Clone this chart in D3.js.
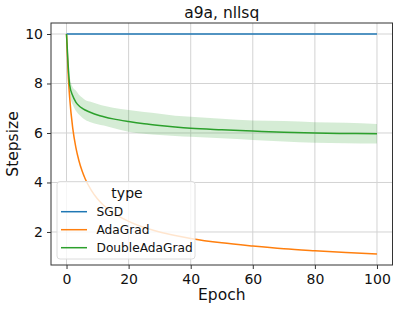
<!DOCTYPE html>
<html><head><meta charset="utf-8">
<script src="https://cdn.jsdelivr.net/npm/d3@7"></script>
<style>body{margin:0;background:#fff;} svg{display:block;font-family:"DejaVu Sans",sans-serif;}</style>
</head><body>
<script>
const title = "a9a, nllsq";
const xLabel = "Epoch";
const yLabel = "Stepsize";
const seriesNames = ["SGD", "AdaGrad", "DoubleAdaGrad"];
const seriesColors = ["#1f77b4", "#ff7f0e", "#2ca02c"];
const xTicks = [0, 20, 40, 60, 80, 100];
const yTicks = [2, 4, 6, 8, 10];
const epochs = [0,0.5,1,2,3,4,5,6,8,10,12,15,20,25,30,35,40,50,60,70,80,90,100];
const sgd = [10,10,10,10,10,10,10,10,10,10,10,10,10,10,10,10,10,10,10,10,10,10,10];
const adagrad = [10,8.45,7.45,6.20,5.42,4.88,4.47,4.15,3.68,3.33,3.07,2.77,2.43,2.18,2.00,1.86,1.74,1.56,1.43,1.32,1.24,1.17,1.11];
const dbl = [10,8.8,7.95,7.5,7.25,7.1,7.0,6.93,6.82,6.73,6.66,6.57,6.46,6.37,6.30,6.24,6.19,6.13,6.08,6.03,6.0,5.98,5.97];
const dblUpper = [10,9.0,8.3,7.85,7.72,7.55,7.43,7.33,7.25,7.17,7.1,7.02,6.93,6.85,6.78,6.70,6.66,6.58,6.50,6.48,6.43,6.41,6.36];
const dblLower = [10,8.6,7.6,7.15,6.9,6.75,6.63,6.53,6.42,6.35,6.3,6.2,6.05,5.97,5.92,5.88,5.85,5.79,5.72,5.66,5.61,5.59,5.58];

const W = 399, H = 312;
const L = 51, R = 392.5, T = 23, B = 265;
const svg = d3.select("body").append("svg").attr("width", W).attr("height", H);

const xmin = 0, xmax = 100, xpad = (xmax - xmin) * 0.05;
const x = d3.scaleLinear().domain([xmin - xpad, xmax + xpad]).range([L, R]);
const ymin = d3.min(adagrad), ymax = d3.max(sgd), ypad = (ymax - ymin) * 0.05;
const y = d3.scaleLinear().domain([ymin - ypad, ymax + ypad]).range([B, T]);

// grid
const grid = svg.append("g");
grid.selectAll(".gx").data(xTicks).enter().append("line")
  .attr("x1", d => x(d)).attr("x2", d => x(d)).attr("y1", T).attr("y2", B)
  .attr("stroke", "#d3d3d3").attr("stroke-width", 1);
grid.selectAll(".gy").data(yTicks).enter().append("line")
  .attr("y1", d => y(d)).attr("y2", d => y(d)).attr("x1", L).attr("x2", R)
  .attr("stroke", "#d3d3d3").attr("stroke-width", 1);

// band
const pts = epochs.map((e, i) => ({e, lo: dblLower[i], hi: dblUpper[i]}));
svg.append("path").datum(pts)
  .attr("d", d3.area().x(d => x(d.e)).y0(d => y(d.lo)).y1(d => y(d.hi)).curve(d3.curveMonotoneX))
  .attr("fill", seriesColors[2]).attr("fill-opacity", 0.2);

const line = d3.line().x(d => x(d[0])).y(d => y(d[1])).curve(d3.curveMonotoneX);
[sgd, adagrad, dbl].forEach((vals, i) => {
  svg.append("path").datum(epochs.map((e, j) => [e, vals[j]]))
    .attr("d", line).attr("fill", "none")
    .attr("stroke", seriesColors[i]).attr("stroke-width", 1.5);
});

// axes
const xAxis = svg.append("g").attr("transform", `translate(0,${B})`)
  .call(d3.axisBottom(x).tickValues(xTicks).tickSize(4).tickPadding(4).tickFormat(d3.format("d")));
const yAxis = svg.append("g").attr("transform", `translate(${L},0)`)
  .call(d3.axisLeft(y).tickValues(yTicks).tickSize(4).tickPadding(4).tickFormat(d3.format("d")));
[xAxis, yAxis].forEach(a => {
  a.select(".domain").remove();
  a.selectAll("line").attr("stroke", "#333");
  a.selectAll("text").attr("font-size", 14).attr("fill", "#111").attr("font-family", "DejaVu Sans");
});
xAxis.selectAll("text").attr("dy", null).attr("y", 18.8);

// spines
svg.append("rect").attr("x", L).attr("y", T).attr("width", R - L).attr("height", B - T)
  .attr("fill", "none").attr("stroke", "#333").attr("stroke-width", 1);

// labels
svg.append("text").attr("x", (L + R) / 2).attr("y", 17.5).attr("text-anchor", "middle")
  .attr("font-size", 15.5).attr("fill", "#111").text(title);
svg.append("text").attr("x", (L + R) / 2).attr("y", 300).attr("text-anchor", "middle")
  .attr("font-size", 15.5).attr("fill", "#111").text(xLabel);
svg.append("text").attr("transform", `translate(18,${(T + B) / 2}) rotate(-90)`).attr("text-anchor", "middle")
  .attr("font-size", 15.5).attr("fill", "#111").text(yLabel);

// legend
const lg = svg.append("g");
lg.append("rect").attr("x", 57).attr("y", 181.5).attr("width", 138).attr("height", 77.5).attr("rx", 3)
  .attr("fill", "#fff").attr("fill-opacity", 0.8).attr("stroke", "#dcdcdc").attr("stroke-width", 1);
lg.append("text").attr("x", 127).attr("y", 198).attr("text-anchor", "middle")
  .attr("font-size", 14).attr("fill", "#111").text("type");
seriesNames.forEach((n, i) => {
  const yy = 211.7 + i * 18;
  lg.append("line").attr("x1", 61).attr("x2", 87).attr("y1", yy).attr("y2", yy)
    .attr("stroke", seriesColors[i]).attr("stroke-width", 1.5);
  lg.append("text").attr("x", 96.5).attr("y", yy + 4.3).attr("font-size", 12.2).attr("fill", "#111").text(n);
});
</script>
</body></html>
